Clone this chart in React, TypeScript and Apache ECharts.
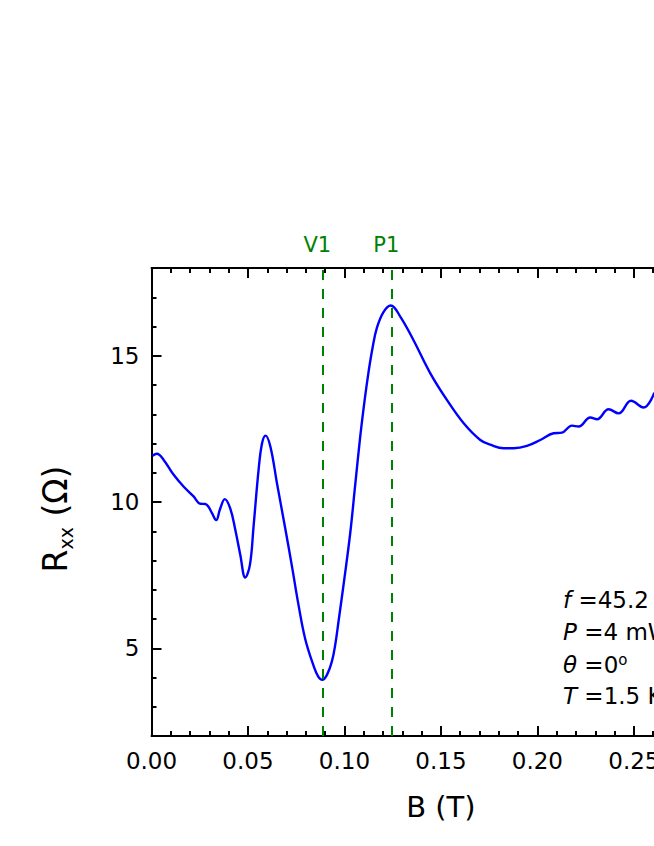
import React, { useEffect, useRef } from "react";
import * as echarts from "echarts";

const fieldB = [
  0.0005, 0.0028, 0.0063, 0.0115, 0.0166, 0.0218, 0.0253, 0.0279, 0.0296, 0.0315,
  0.0335, 0.0355, 0.038, 0.0408, 0.0434, 0.046, 0.0486, 0.051, 0.0529, 0.0555,
  0.0573, 0.0591, 0.0616, 0.065, 0.0693, 0.0728, 0.0763, 0.0797, 0.084, 0.0865,
  0.0885, 0.091, 0.0935, 0.0953, 0.097, 0.1, 0.103, 0.1056, 0.1082, 0.1105,
  0.1125, 0.1145, 0.1168, 0.1203, 0.124, 0.129, 0.1358, 0.1445, 0.1531, 0.1618,
  0.1704, 0.176, 0.1825, 0.1877, 0.1946, 0.2015, 0.2084, 0.2127, 0.2179, 0.2214,
  0.2274, 0.2309, 0.2369, 0.2421, 0.2485, 0.255, 0.2606,
];
const resistance = [
  11.58, 11.65, 11.44, 10.93, 10.53, 10.19, 9.94, 9.93, 9.83, 9.6,
  9.38, 9.75, 10.1, 9.78, 9.06, 8.2, 7.42, 7.85, 9.17, 11.1,
  12.01, 12.27, 11.9, 10.65, 9.1, 7.8, 6.44, 5.31, 4.4, 4.02,
  3.92, 4.1, 4.55, 5.15, 5.95, 7.4, 8.94, 10.6, 12.25, 13.5,
  14.45, 15.25, 15.95, 16.5, 16.72, 16.33, 15.53, 14.4, 13.49, 12.69,
  12.12, 11.95, 11.84, 11.84, 11.92, 12.12, 12.35, 12.37, 12.61, 12.58,
  12.89, 12.83, 13.17, 13.03, 13.46, 13.23, 13.74,
];
const markerNames = ["V1", "P1"];
const markerFields = [0.0885, 0.1243];
const yMajorTicks = [5, 10, 15];
const annotationLines = [
  { sym: "f", rest: " =45.2 GHz", sup: "" },
  { sym: "P", rest: " =4 mW", sup: "" },
  { sym: "θ", rest: " =0", sup: "o" },
  { sym: "T", rest: " =1.5 K", sup: "" },
];

const FONT = "'DejaVu Sans', 'Liberation Sans', Arial, sans-serif";

export default function App() {
  const ref = useRef<HTMLDivElement>(null);
  useEffect(() => {
    if (!ref.current) return;
    const chart = echarts.init(ref.current, null, { renderer: "svg" });
    const data = fieldB.map((b, i) => [b, resistance[i]]);
    const xBase = {
      type: "value",
      min: 0,
      max: 0.3,
      interval: 0.05,
      axisLine: { show: true, onZero: false, lineStyle: { color: "#000", width: 2 } },
      axisTick: { show: true, inside: true, length: 10, lineStyle: { color: "#000", width: 2 } },
      minorTick: { show: true, splitNumber: 5, length: 5, lineStyle: { color: "#000", width: 2 } },
      splitLine: { show: false },
    };
    const option: any = {
      animation: false,
      backgroundColor: "#fff",
      textStyle: { fontFamily: FONT },
      grid: { left: 151.5, top: 268, width: 578.85, height: 468, containLabel: false },
      xAxis: [
        {
          ...xBase,
          position: "bottom",
          name: "B (T)",
          nameLocation: "middle",
          nameGap: 56,
          nameTextStyle: { fontSize: 29, color: "#000", fontFamily: FONT },
          axisLabel: {
            show: true,
            fontSize: 23,
            color: "#000",
            margin: 13,
            fontFamily: FONT,
            formatter: (v: number) => v.toFixed(2),
          },
        },
        { ...xBase, position: "top", axisLabel: { show: false } },
      ],
      yAxis: [
        {
          type: "value",
          position: "left",
          min: 2,
          max: 18,
          interval: 1,
          axisLine: { show: true, onZero: false, lineStyle: { color: "#000", width: 2 } },
          axisTick: { show: true, inside: true, length: 5, lineStyle: { color: "#000", width: 2 } },
          splitLine: { show: false },
          axisLabel: {
            show: true,
            fontSize: 23,
            color: "#000",
            margin: 12,
            fontFamily: FONT,
            formatter: (v: number) => (yMajorTicks.includes(v) ? String(v) : ""),
          },
          name: "{r|R}{s|xx}{r| (Ω)}",
          nameLocation: "middle",
          nameGap: 76,
          nameRotate: 90,
          nameTextStyle: {
            color: "#000",
            fontFamily: FONT,
            padding: [0, 0, 0, -34],
            rich: {
              r: { fontSize: 33, lineHeight: 40, color: "#000", fontFamily: FONT },
              s: { fontSize: 19, lineHeight: 19, verticalAlign: "bottom", color: "#000", fontFamily: FONT },
            },
          },
        },
        {
          type: "value",
          position: "left",
          min: 2,
          max: 18,
          axisLine: { show: true, onZero: false, lineStyle: { color: "#000", width: 2 } },
          axisTick: {
            show: true,
            inside: true,
            length: 10,
            customValues: yMajorTicks,
            lineStyle: { color: "#000", width: 2 },
          },
          axisLabel: { show: false },
          splitLine: { show: false },
        },
      ],
      series: [
        {
          type: "line",
          xAxisIndex: 0,
          yAxisIndex: 0,
          data,
          smooth: 0.4,
          showSymbol: false,
          symbol: "none",
          lineStyle: { color: "#0000ff", width: 2.4 },
          markLine: {
            silent: true,
            symbol: "none",
            precision: 5,
            lineStyle: { color: "#008000", type: [10, 9], width: 2 },
            label: {
              show: true,
              position: "end",
              formatter: "{b}",
              color: "#008000",
              fontSize: 21,
              fontFamily: FONT,
              distance: 13,
              padding: [0, 10, 0, 0],
            },
            data: markerNames.map((n, i) => ({ name: n, xAxis: markerFields[i] })),
          },
        },
      ],
      graphic: annotationLines.map((l, i) => ({
        type: "text",
        left: 563,
        top: 588 + i * 32,
        style: {
          text: `{i|${l.sym}}{n|${l.rest}}${l.sup ? `{u|${l.sup}}` : ""}`,
          rich: {
            i: { fontSize: 23, fontStyle: "italic", fontFamily: FONT, fill: "#000", lineHeight: 26 },
            n: { fontSize: 23, fontFamily: FONT, fill: "#000", lineHeight: 26 },
            u: { fontSize: 15, fontFamily: FONT, fill: "#000", verticalAlign: "top", lineHeight: 26 },
          },
        },
      })),
    };
    chart.setOption(option);
    return () => chart.dispose();
  }, []);
  return (
    <div style={{ position: "absolute", left: 0, top: 0, width: 654, height: 846, overflow: "hidden", background: "#fff" }}>
      <div ref={ref} style={{ width: 800, height: 846 }} />
    </div>
  );
}
